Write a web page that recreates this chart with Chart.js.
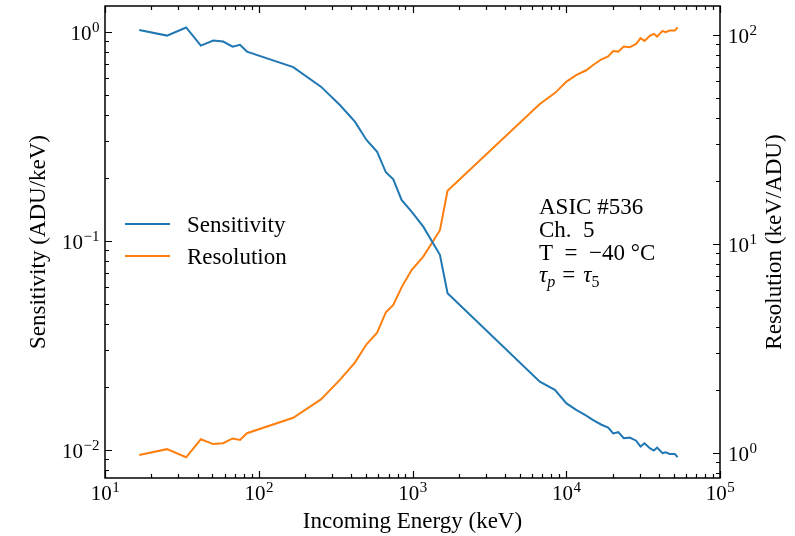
<!DOCTYPE html>
<html>
<head>
<meta charset="utf-8">
<script src="https://cdn.jsdelivr.net/npm/chart.js@4"></script>
<style>
  body { margin: 0; background: #fff; }
  canvas { display: block; }
</style>
</head>
<body>
<canvas id="chart" width="795" height="536"></canvas>
<script>
// values (energy in keV)
const energies = [16.7, 25.3, 33.7, 42, 50.6, 58.7, 67.6, 75.5, 83.8, 167.6, 253.7, 337, 422, 502, 589, 671, 750, 849, 986, 1175, 1508, 1690,
    6730, 8430, 10040, 11670, 13500, 14960, 16950, 18730, 20200, 21800, 23660, 25880, 28500, 30390, 32300, 34940, 37150, 39000, 42270, 44200, 47200, 50850, 52960]

const sensitivity = [1.02, 0.96, 1.05, 0.86, 0.909, 0.899, 0.85, 0.867, 0.805, 0.678, 0.547, 0.447, 0.372, 0.304, 0.267, 0.213, 0.197, 0.157, 0.138, 0.117, 0.0858, 0.0562,
    0.0212, 0.0194, 0.0167, 0.0155, 0.0146, 0.0139, 0.0132, 0.0128, 0.0120, 0.01216, 0.01137, 0.01145, 0.01107, 0.01037, 0.01076, 0.01019, 0.00993, 0.01026, 0.00965, 0.00975, 0.00957, 0.00957, 0.00923]

const resolution = [0.975, 1.04, 0.951, 1.16, 1.10, 1.11, 1.17, 1.15, 1.24, 1.47, 1.80, 2.23, 2.70, 3.30, 3.75, 4.70, 5.09, 6.18, 7.48, 8.67, 11.6, 17.9,
    46.6, 52.5, 59.6, 64.1, 67.5, 71.5, 76.2, 78.6, 83.5, 82.9, 87.7, 87.1, 90.2, 96.2, 93.3, 98.6, 100.8, 97.8, 104.2, 102.6, 104.5, 104.5, 108.4]

// tick labels: [value, exponent]
const xTicks = [[10, '1'], [100, '2'], [1000, '3'], [10000, '4'], [100000, '5']]
const yTicks = [[0.01, '−2'], [0.1, '−1'], [1, '0']]
const y2Ticks = [[1, '0'], [10, '1'], [100, '2']]

const annotation = ['ASIC #536', 'Ch.  5', 'T  =  −40 °C']

const FONT = '"Liberation Serif", "DejaVu Serif", serif'
const BLUE = '#1f77b4'
const ORANGE = '#ff7f0e'

// 10^exp label with a raised exponent
const drawPow = (ctx, exp, x, y, align) => {
    ctx.font = `21px ${FONT}`
    const wb = ctx.measureText('10').width
    ctx.font = `15px ${FONT}`
    const we = ctx.measureText(exp).width
    let x0 = x
    if (align == 'center') x0 = x - (wb + we) / 2
    if (align == 'right') x0 = x - wb - we
    ctx.textAlign = 'left'
    ctx.font = `21px ${FONT}`
    ctx.fillText('10', x0, y)
    ctx.font = `15px ${FONT}`
    ctx.fillText(exp, x0 + wb + 0.5, y - 8)
}

const logMinor = (min, max) => {
    let out = []
    for (let d = Math.floor(Math.log10(min)); d <= Math.ceil(Math.log10(max)); d++) {
        for (let m = 2; m <= 9; m++) {
            const v = m * Math.pow(10, d)
            if (v >= min && v <= max) out.push(v)
        }
    }
    return out
}

const mplAxes = {
    id: 'mplAxes',
    afterDraw(chart) {
        const ctx = chart.ctx
        const a = chart.chartArea
        const sx = chart.scales.x
        const sy = chart.scales.y
        const sy2 = chart.scales.y2
        ctx.save()
        ctx.strokeStyle = '#000'
        ctx.fillStyle = '#000'

        // ticks, pointing inward
        ctx.lineWidth = 1.2
        ctx.beginPath()
        const tickX = (v, len) => {
            const px = Math.round(sx.getPixelForValue(v)) + 0.5
            ctx.moveTo(px, a.bottom); ctx.lineTo(px, a.bottom - len)
            ctx.moveTo(px, a.top); ctx.lineTo(px, a.top + len)
        }
        xTicks.forEach(t => tickX(t[0], 7))
        logMinor(sx.min, sx.max).forEach(v => tickX(v, 4))
        const tickY = (scale, v, len, left) => {
            const py = Math.round(scale.getPixelForValue(v)) + 0.5
            if (left) { ctx.moveTo(a.left, py); ctx.lineTo(a.left + len, py) }
            else { ctx.moveTo(a.right, py); ctx.lineTo(a.right - len, py) }
        }
        yTicks.forEach(t => tickY(sy, t[0], 7, true))
        logMinor(sy.min, sy.max).forEach(v => tickY(sy, v, 4, true))
        y2Ticks.forEach(t => tickY(sy2, t[0], 7, false))
        logMinor(sy2.min, sy2.max).forEach(v => tickY(sy2, v, 4, false))
        ctx.stroke()

        // frame
        ctx.lineWidth = 1.5
        ctx.strokeRect(a.left, a.top, a.right - a.left, a.bottom - a.top)

        // tick labels
        ctx.textBaseline = 'alphabetic'
        xTicks.forEach(t => drawPow(ctx, t[1], sx.getPixelForValue(t[0]), a.bottom + 22, 'center'))
        yTicks.forEach(t => drawPow(ctx, t[1], a.left - 6, sy.getPixelForValue(t[0]) + 8.5, 'right'))
        y2Ticks.forEach(t => drawPow(ctx, t[1], a.right + 8, sy2.getPixelForValue(t[0]) + 8.5, 'left'))

        // axis titles
        ctx.font = `23px ${FONT}`
        ctx.textAlign = 'center'
        ctx.fillText('Incoming Energy (keV)', (a.left + a.right) / 2, 528)
        ctx.save()
        ctx.translate(45, (a.top + a.bottom) / 2)
        ctx.rotate(-Math.PI / 2)
        ctx.fillText('Sensitivity (ADU/keV)', 0, 0)
        ctx.restore()
        ctx.save()
        ctx.translate(781, (a.top + a.bottom) / 2)
        ctx.rotate(-Math.PI / 2)
        ctx.fillText('Resolution (keV/ADU)', 0, 0)
        ctx.restore()

        // legend
        ctx.textAlign = 'left'
        chart.data.datasets.forEach((ds, i) => {
            const ly = 224 + i * 32
            ctx.strokeStyle = ds.borderColor
            ctx.lineWidth = 2
            ctx.beginPath()
            ctx.moveTo(125, ly); ctx.lineTo(170, ly)
            ctx.stroke()
            ctx.fillStyle = '#000'
            ctx.font = `23px ${FONT}`
            ctx.fillText(ds.label, 187, ly + 8)
        })

        // annotation
        ctx.font = `23px ${FONT}`
        annotation.forEach((s, i) => ctx.fillText(s, 539, 214 + i * 23))
        // tau_p = tau_5
        let x = 539
        const by = 282
        ctx.font = `italic 23px ${FONT}`
        ctx.fillText('τ', x, by); x += ctx.measureText('τ').width
        ctx.font = `italic 16px ${FONT}`
        ctx.fillText('p', x, by + 5); x += ctx.measureText('p').width + 7
        ctx.font = `23px ${FONT}`
        ctx.fillText('=', x, by); x += ctx.measureText('=').width + 8
        ctx.font = `italic 23px ${FONT}`
        ctx.fillText('τ', x, by); x += ctx.measureText('τ').width
        ctx.font = `16px ${FONT}`
        ctx.fillText('5', x, by + 5)

        ctx.restore()
    }
}

const ctx = document.querySelector('#chart').getContext('2d')
const chart = new Chart(ctx, {
    type: 'line',
    data: {
        datasets: [
            {
                label: 'Sensitivity',
                data: energies.map((e, i) => ({ x: e, y: sensitivity[i] })),
                yAxisID: 'y',
                borderColor: BLUE,
                borderWidth: 2,
                pointRadius: 0,
                tension: 0
            },
            {
                label: 'Resolution',
                data: energies.map((e, i) => ({ x: e, y: resolution[i] })),
                yAxisID: 'y2',
                borderColor: ORANGE,
                borderWidth: 2,
                pointRadius: 0,
                tension: 0
            }
        ]
    },
    options: {
        responsive: false,
        animation: false,
        devicePixelRatio: 1,
        layout: { padding: { left: 105, right: 75, top: 6, bottom: 58 } },
        scales: {
            x: { type: 'logarithmic', min: 10, max: 100000, display: false },
            y: { type: 'logarithmic', min: 0.00734, max: 1.33, display: false },
            y2: { type: 'logarithmic', min: 0.757, max: 137, display: false, position: 'right' }
        },
        plugins: {
            legend: { display: false },
            tooltip: { enabled: false }
        }
    },
    plugins: [mplAxes]
})
</script>
</body>
</html>
